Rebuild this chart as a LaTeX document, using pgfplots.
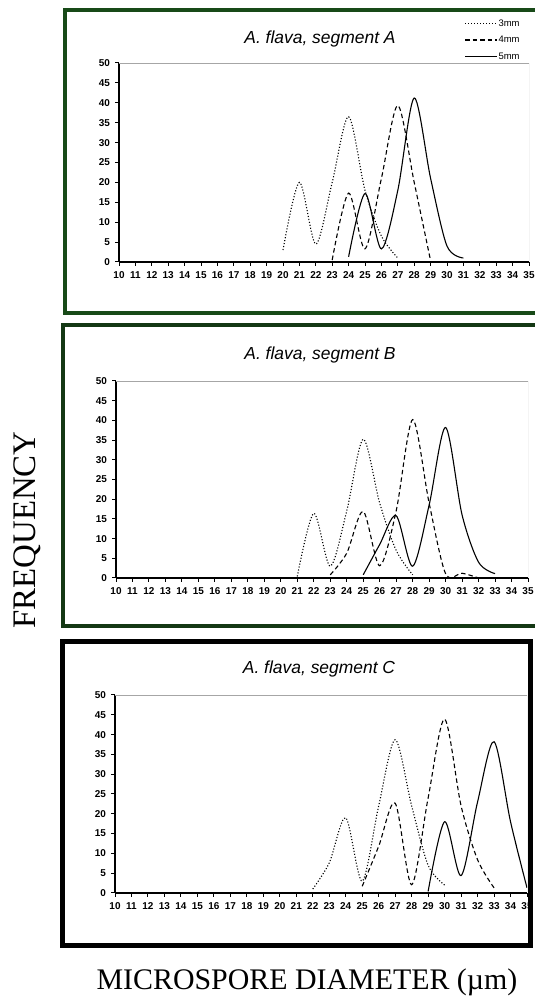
\documentclass[border=0pt]{standalone}
\usepackage{fontspec}
\setmainfont{Liberation Sans}
\newfontfamily\timesf{Liberation Serif}
\usepackage{pgfplots}
\pgfplotsset{compat=1.18}

\definecolor{frameA}{RGB}{24,74,24}
\definecolor{frameB}{RGB}{20,56,20}

\pgfplotsset{
  panel/.style={
    scale only axis,
    xmin=10, xmax=35, ymin=0, ymax=50,
    xtick={10,...,35}, ytick={0,5,...,50},
    axis x line*=bottom, axis y line*=left,
    axis line style={black, line width=1.4bp},
    tick align=outside, major tick length=4bp,
    tick style={black, line width=1bp},
    ticklabel style={font=\fontsize{10}{10}\selectfont\bfseries},
    xticklabel style={yshift=-2.5bp},
    yticklabel style={xshift=-1.5bp},
    /pgf/number format/assume math mode=true,
    legend image code/.code={\draw[##1] (0bp,0bp) -- (32bp,0bp);},
  },
  s3/.style={black, line width=1.1bp, dash pattern=on 1.1bp off 1.9bp},
  s4/.style={black, line width=1.1bp, dash pattern=on 4.5bp off 3bp},
  s5/.style={black, line width=1.1bp},
}

\begin{document}
\begin{tikzpicture}[x=1bp,y=1bp]
\useasboundingbox (0,0) rectangle (535,997);

% panel frames
\draw[frameA, line width=4bp] (65,987) rectangle (545,684);
\draw[frameB, line width=4bp] (63,672) rectangle (545,371);
\draw[black, line width=5bp] (62.5,355.5) rectangle (530.5,51);

% segment A
\begin{axis}[panel, at={(119bp,735bp)}, anchor=south west,
  width=410bp, height=199bp,
  legend style={at={(rel axis cs:0.98,1.225)}, anchor=north east,
    draw=none, fill=none, inner sep=0pt, row sep=6.5bp,
    font=\fontsize{9.5}{9.5}\selectfont,
    nodes={inner sep=1pt}},
  legend cell align=left]
\draw[gray!70, line width=0.7bp] (rel axis cs:0,1) -- (rel axis cs:1,1) -- (rel axis cs:1,0);
\addplot[s3, smooth] coordinates {
  (20,3) (21,20) (22,4.5) (23,20) (24,36.5) (25,18) (26,6.5) (27,1)
};
\addlegendentry{3mm}
\addplot[s4, smooth] coordinates {
  (23,0.5) (24,17.3) (25,3.3) (26,21) (27,39.3) (28,20) (29,0.3)
};
\addlegendentry{4mm}
\addplot[s5, smooth] coordinates {
  (24,1.3) (25,17.2) (26,3.3) (27,18) (28,41.2) (29,21) (30,4) (31,1)
};
\addlegendentry{5mm}
\end{axis}

% segment B
\begin{axis}[panel, at={(116bp,419bp)}, anchor=south west,
  width=412bp, height=197bp]
\draw[gray!70, line width=0.7bp] (rel axis cs:0,1) -- (rel axis cs:1,1) -- (rel axis cs:1,0);
\addplot[s3, smooth] coordinates {
  (21,0.4) (22,16.4) (23,3) (24,17) (25,35.2) (26,19) (27,7) (28,0.8)
};
\addplot[s4, smooth] coordinates {
  (23,0.8) (24,6.3) (25,16.9) (26,3.1) (27,17) (28,40.2) (29,19) (30,1.1) (31,1.2) (32,0)
};
\addplot[s5, smooth] coordinates {
  (25,0.8) (26,8.5) (27,15.8) (28,3) (29,18.5) (30,38.2) (31,16) (32,4) (33,1.1)
};
\end{axis}

% segment C
\begin{axis}[panel, at={(115bp,104bp)}, anchor=south west,
  width=412bp, height=198bp]
\draw[gray!70, line width=0.7bp] (rel axis cs:0,1) -- (rel axis cs:1,1) -- (rel axis cs:1,0);
\addplot[s3, smooth] coordinates {
  (22,1) (23,7.6) (24,19) (25,3) (26,22) (27,38.7) (28,22) (29,7) (30,2)
};
\addplot[s4, smooth] coordinates {
  (25,1.7) (26,11.8) (27,22.7) (28,2.1) (29,24) (30,43.9) (31,22) (32,8.4) (33,1.3)
};
\addplot[s5, smooth] coordinates {
  (29,0.4) (30,18) (31,4.4) (32,23) (33,38.2) (34,18) (35,1.3)
};
\end{axis}

% titles
\node[font=\fontsize{17.5}{17.5}\selectfont\itshape] at (320,958) {A. flava, segment A};
\node[font=\fontsize{17.5}{17.5}\selectfont\itshape] at (320,642) {A. flava, segment B};
\node[font=\fontsize{17.5}{17.5}\selectfont\itshape] at (319,328) {A. flava, segment C};

% axis titles
\node[font=\timesf\fontsize{33}{33}\selectfont, rotate=90, anchor=base] at (35,467) {FREQUENCY};
\node[font=\timesf\fontsize{30}{30}\selectfont, anchor=base] at (307,7.5) {MICROSPORE DIAMETER (µm)};
\end{tikzpicture}
\end{document}
